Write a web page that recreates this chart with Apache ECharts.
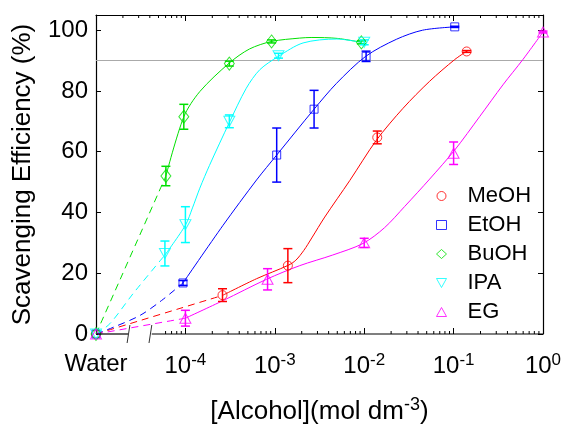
<!DOCTYPE html>
<html>
<head>
<meta charset="utf-8">
<script src="https://cdn.jsdelivr.net/npm/echarts@6/dist/echarts.min.js"></script>
<style>
html, body { margin: 0; padding: 0; background: #fff; }
#chart { width: 564px; height: 424px; }
</style>
</head>
<body>
<div id="chart"></div>
<script>
// concentrations in mol dm^-3, the "Water" point sits at 1e-5
const WATER = 1e-5;
const names = ['MeOH', 'EtOH', 'BuOH', 'IPA', 'EG'];
const colors = ['#ff0000', '#0000ff', '#00e000', '#00ffff', '#ff00ff'];

// measured points (value, error)
const meohX = [WATER, 2.6e-4, 1.4e-3, 1.4e-2, 0.14];
const meohY = [0, 12.8, 22.5, 64.7, 93];
const meohErr = [0, 2.1, 5.6, 2.1, 0.3];

const etohX = [WATER, 9.4e-5, 1.05e-3, 2.75e-3, 1.05e-2, 0.103];
const etohY = [0, 16.8, 58.9, 74, 91.4, 101.1];
const etohErr = [0, 0.8, 8.9, 6.2, 1.7, 0.2];

const buohX = [WATER, 6.05e-5, 9.6e-5, 3.1e-4, 9.2e-4, 9.3e-3];
const buohY = [0, 52, 71.5, 89, 96.3, 96];
const buohErr = [0, 3.2, 4.1, 0.8, 0.5, 0.5];

const ipaX = [WATER, 5.9e-5, 1e-4, 3.1e-4, 1.1e-3, 1e-2];
const ipaY = [0, 26.5, 36, 70, 91.6, 96];
const ipaErr = [0, 4.1, 5.9, 2.1, 0.8, 0.8];

const egX = [WATER, 1e-4, 8.3e-4, 1e-2, 0.1, 1];
const egY = [0, 5.2, 18, 30, 59.5, 99.4];
const egErr = [0, 2.6, 3.5, 1.5, 3.7, 0.3];

// fitted curves (solid part)
const meohFitX = [2.6e-4, 6.25e-4, 1.41e-3, 1.72e-3, 2.11e-3, 2.59e-3, 3.62e-3, 6.89e-3, 1.37e-2, 2.72e-2, 5.4e-2, 0.1026, 0.139];
const meohFitY = [12.7, 18.2, 22.6, 24.3, 27.5, 31.6, 38.5, 50.5, 63.8, 74.3, 83.2, 90.3, 93];
const etohFitX = [9.4e-5, 2.64e-4, 6.25e-4, 1.05e-3, 2.75e-3, 4.9e-3, 1.04e-2, 2.29e-2, 4.5e-2, 0.103];
const etohFitY = [16.8, 35.8, 50.7, 58.9, 74, 82.5, 91.4, 97, 100, 101.1];
const buohFitX = [6.05e-5, 9.6e-5, 1.45e-4, 3.1e-4, 5.2e-4, 9.2e-4, 1.9e-3, 2.6e-3, 5e-3, 9.3e-3];
const buohFitY = [52, 71.5, 79.8, 89.2, 93.8, 96.3, 97.4, 97.6, 97.3, 96];
const ipaFitX = [5.9e-5, 1e-4, 1.2e-4, 1.45e-4, 1.86e-4, 3.1e-4, 4.8e-4, 6.8e-4, 1.1e-3, 2.07e-3, 4.9e-3, 9.3e-3];
const ipaFitY = [26, 35.8, 41.5, 48, 55.5, 69.6, 80.9, 87, 91.4, 95.8, 97.1, 96];
const egFitX = [1e-4, 2.64e-4, 8.07e-4, 1.9e-3, 4.45e-3, 9.7e-3, 1.69e-2, 2.84e-2, 5.4e-2, 0.1026, 0.195, 0.356, 0.594, 1];
const egFitY = [5.2, 11, 18, 22.5, 26, 29.8, 35, 42, 51, 60.5, 71.5, 82, 90.3, 99.4];

// dashed extrapolation from water to first point
const meohDashX = [WATER, 2.6e-4];
const meohDashY = [0, 12.7];
const etohDashX = [WATER, 1.56e-5, 3.1e-5, 5.4e-5, 9.4e-5];
const etohDashY = [0, 2.2, 6.1, 11, 16.8];
const buohDashX = [WATER, 6.05e-5];
const buohDashY = [0, 52];
const ipaDashX = [WATER, 1.43e-5, 2.6e-5, 5.9e-5];
const ipaDashY = [0, 3.4, 13.3, 26];
const egDashX = [WATER, 1e-4];
const egDashY = [0, 5.2];

const refLine = 90;
const yTicks = [0, 20, 40, 60, 80, 100];
// minor log ticks; the bottom axis is broken between water and 4e-5
const minorBottom = [6e-5, 7e-5, 8e-5, 9e-5];
const minorTop = [2e-5, 3e-5, 4e-5, 5e-5, 6e-5, 7e-5, 8e-5, 9e-5];
for (let d = -4; d <= -1; d++) {
	for (let k = 2; k <= 9; k++) {
		minorBottom.push(k * Math.pow(10, d));
		minorTop.push(k * Math.pow(10, d));
	}
}
const axisSegments = [[WATER, 2.28e-5], [4.2e-5, 1]];
const breakMarks = [2.31e-5, 4.06e-5];

const FONT = 'Liberation Sans, Arial, sans-serif';
const Y_MAX = 105;

const zip = (xs, ys) => xs.map((x, i) => [x, ys[i]]);
const zip3 = (xs, ys, es) => xs.map((x, i) => [x, ys[i], es[i]]);

const groups = [
	{ x: meohX, y: meohY, e: meohErr, fx: meohFitX, fy: meohFitY, dx: meohDashX, dy: meohDashY, symbol: 'circle', size: 9 },
	{ x: etohX, y: etohY, e: etohErr, fx: etohFitX, fy: etohFitY, dx: etohDashX, dy: etohDashY, symbol: 'rect', size: 8 },
	{ x: buohX, y: buohY, e: buohErr, fx: buohFitX, fy: buohFitY, dx: buohDashX, dy: buohDashY, symbol: 'diamond', size: [10, 13] },
	{ x: ipaX, y: ipaY, e: ipaErr, fx: ipaFitX, fy: ipaFitY, dx: ipaDashX, dy: ipaDashY, symbol: 'path://M0,0 L10,0 L5,9 Z', size: [11, 10] },
	{ x: egX, y: egY, e: egErr, fx: egFitX, fy: egFitY, dx: egDashX, dy: egDashY, symbol: 'triangle', size: [11, 10] },
];

function renderErr(params, api) {
	const x = api.value(0), y = api.value(1), e = api.value(2);
	if (!e) return;
	const top = api.coord([x, y + e]);
	const bot = api.coord([x, y - e]);
	const w = 4.5;
	const style = { stroke: api.visual('color'), lineWidth: 1.5 };
	return {
		type: 'group',
		children: [
			{ type: 'line', shape: { x1: top[0], y1: top[1], x2: bot[0], y2: bot[1] }, style },
			{ type: 'line', shape: { x1: top[0] - w, y1: top[1], x2: top[0] + w, y2: top[1] }, style },
			{ type: 'line', shape: { x1: bot[0] - w, y1: bot[1], x2: bot[0] + w, y2: bot[1] }, style },
		],
	};
}

function renderTick(params, api) {
	const p = api.coord([api.value(0), api.value(1)]);
	const dir = api.value(1) > 0 ? 1 : -1;
	return { type: 'line', shape: { x1: p[0], y1: p[1], x2: p[0], y2: p[1] + dir * 3 }, style: { stroke: '#000', lineWidth: 1 } };
}

function renderSegment(params, api) {
	const a = api.coord([api.value(0), 0]);
	const b = api.coord([api.value(2), 0]);
	return { type: 'line', shape: { x1: a[0], y1: a[1], x2: b[0], y2: b[1] }, style: { stroke: '#000', lineWidth: 1.2 } };
}

function renderBreak(params, api) {
	const p = api.coord([api.value(0), 0]);
	return { type: 'line', shape: { x1: p[0] + 1.4, y1: p[1] - 9, x2: p[0] - 1.4, y2: p[1] + 9 }, style: { stroke: '#333', lineWidth: 1 } };
}

const series = [];
groups.forEach((g, i) => {
	series.push({
		name: names[i] + ' dash',
		type: 'line',
		data: zip(g.dx, g.dy),
		symbol: 'none',
		smooth: 0.3,
		lineStyle: { color: colors[i], width: 1, type: [7, 5] },
		z: 2,
	});
	series.push({
		name: names[i] + ' fit',
		type: 'line',
		data: zip(g.fx, g.fy),
		symbol: 'none',
		smooth: 0.3,
		lineStyle: { color: colors[i], width: 1 },
		z: 2,
	});
	series.push({
		name: names[i] + ' err',
		type: 'custom',
		renderItem: renderErr,
		data: zip3(g.x, g.y, g.e),
		itemStyle: { color: colors[i] },
		z: 3,
	});
	series.push({
		name: names[i],
		type: 'scatter',
		data: zip(g.x, g.y),
		symbol: g.symbol,
		symbolSize: g.size,
		itemStyle: { color: 'transparent', borderColor: colors[i], borderWidth: 1 },
		z: 4,
	});
});

// reference line at 90 %
series[1].markLine = {
	silent: true,
	symbol: ['none', 'none'],
	label: { show: false },
	lineStyle: { color: '#aaaaaa', width: 1, type: 'solid' },
	data: [{ yAxis: refLine }],
	z: 1,
};

series.push({
	type: 'custom', renderItem: renderTick, silent: true, z: 5,
	data: minorBottom.map(v => [v, 0]),
});
series.push({
	type: 'custom', renderItem: renderTick, silent: true, z: 5,
	xAxisIndex: 1, yAxisIndex: 1,
	data: minorTop.map(v => [v, Y_MAX]),
});
series.push({
	type: 'custom', renderItem: renderSegment, silent: true, z: 5,
	data: axisSegments.map(s => [s[0], 0, s[1]]),
});
series.push({
	type: 'custom', renderItem: renderBreak, silent: true, z: 5,
	data: breakMarks.map(v => [v, 0]),
});

const myChart = echarts.init(document.getElementById('chart'));
myChart.setOption({
	animation: false,
	grid: { left: 96, right: 21, top: 15, bottom: 90, outerBoundsMode: 'none' },
	legend: {
		orient: 'vertical',
		left: 431,
		top: 180,
		itemWidth: 10,
		itemHeight: 9,
		itemGap: 7,
		formatter: n => '{t|' + n + '}',
		textStyle: {
			fontSize: 22, fontFamily: FONT, color: '#000',
			rich: { t: { fontSize: 22, fontFamily: FONT, color: '#000', lineHeight: 22, padding: [0, 0, 0, 16] } },
		},
		data: names.map((n, i) => ({
			name: n,
			icon: groups[i].symbol,
			itemStyle: { color: 'transparent', borderColor: colors[i], borderWidth: 1 },
		})),
	},
	xAxis: [
		{
			type: 'log',
			logBase: 10,
			min: WATER,
			max: 1,
			name: '{b|[Alcohol](mol dm}{s|-3}{b|)}',
			nameLocation: 'middle',
			nameGap: 62,
			nameTextStyle: {
				rich: {
					b: { fontSize: 26, fontFamily: FONT, color: '#000' },
					s: { fontSize: 18, fontFamily: FONT, color: '#000', padding: [0, 0, 14, 0] },
				},
			},
			axisLine: { show: false, onZero: false },
			axisTick: { show: true, inside: true, length: 6, lineStyle: { color: '#000' } },
			splitLine: { show: false },
			axisLabel: {
				margin: 18,
				formatter: v => {
					const e = Math.round(Math.log10(v));
					return e === -5 ? '{b|Water}' : '{b|10}{s|' + e + '}';
				},
				rich: {
					b: { fontSize: 24, fontFamily: FONT, color: '#000' },
					s: { fontSize: 17, fontFamily: FONT, color: '#000', padding: [0, 0, 12, 0] },
				},
			},
		},
		{
			type: 'log',
			logBase: 10,
			min: WATER,
			max: 1,
			position: 'top',
			axisLine: { show: true, onZero: false, lineStyle: { color: '#000', width: 1.2 } },
			axisTick: { show: true, inside: true, length: 6, lineStyle: { color: '#000' } },
			axisLabel: { show: false },
			splitLine: { show: false },
		},
	],
	yAxis: [
		{
			type: 'value',
			min: 0,
			max: Y_MAX,
			interval: 20,
			name: 'Scavenging Efficiency (%)',
			nameLocation: 'middle',
			nameGap: 60,
			nameTextStyle: { fontSize: 26, fontFamily: FONT, color: '#000' },
			axisLine: { show: true, onZero: false, lineStyle: { color: '#000', width: 1.2 } },
			axisTick: { show: true, inside: true, length: 5, lineStyle: { color: '#000' } },
			splitLine: { show: false },
			axisLabel: {
				margin: 8,
				fontSize: 24,
				fontFamily: FONT,
				color: '#000',
				formatter: v => (yTicks.includes(v) ? String(v) : ''),
			},
		},
		{
			type: 'value',
			min: 0,
			max: Y_MAX,
			interval: 20,
			position: 'right',
			axisLine: { show: true, onZero: false, lineStyle: { color: '#000', width: 1.2 } },
			axisTick: { show: true, inside: true, length: 5, lineStyle: { color: '#000' } },
			axisLabel: { show: false },
			splitLine: { show: false },
		},
	],
	series: series,
});

window.addEventListener('resize', () => myChart.resize());
</script>
</body>
</html>
